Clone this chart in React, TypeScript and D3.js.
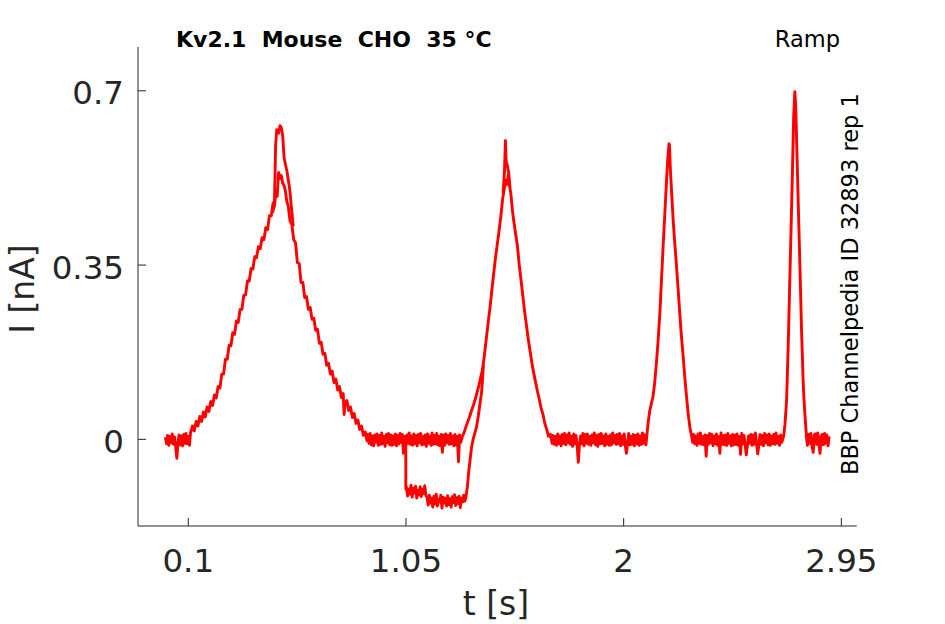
import React from "react";
import * as d3 from "d3";

type P = [number, number];

// axis ticks
const xTicks: number[] = [0.1, 1.05, 2, 2.95];
const xTickLabels: string[] = ["0.1", "1.05", "2", "2.95"];
const yTicks: number[] = [0, 0.35, 0.7];
const yTickLabels: string[] = ["0", "0.35", "0.7"];
const xDomain: [number, number] = [-0.1195, 3.017];
const yDomain: [number, number] = [-0.174, 0.788];

// recording sample interval of the baseline segments [s]
const SAMPLE_DT = 0.005;

// Baseline (holding) segments of sweep 1, in pA
const base0Start = 0.0;
const base0: number[] = [4, -9, 8, -12, 6, -7, 11, -10, 5, -14, -38, -6, 9, -11, 7, -13, 10, -8, 12, -9, 6, -12, 14];

const base1Start = 0.884;
const base1: number[] = [
  10, -8, 12, -11, 7, -13, 9, -6, 11, -12,
  8, -10, 13, -9, 6, -14, 10, -7, 12, -11,
  9, -12, 7, -10, 11, -13, 8, -9, 12, -6,
  10, -28, 6, -14, 9, -8, 13, -10, 7, -12,
  11, -9, 8, -13, 10, -7, 12, -11, 6, -10,
  9, -14, 11, -8, 7, -12, 13, -10, 8, -9,
  12, -11, 6, -13, 10, -26, 9, -12, 11, -7,
  8, -10, 12, -9, 7, -13, 10, -11, 6, -45,
  9, -6,
];

const base2Start = 1.692;
const base2: number[] = [
  8, -10, 6, -12, 11, -9, 7, -13, 10, -8,
  12, -11, 9, -7, 13, -10, 6, -14, 11, -9,
  8, -12, -46, -11, 7, -9, 12, -13, 10, -8,
  11, -10, 6, -12, 9, -7, 13, -11, 8, -14,
  10, -9, 12, -8, 7, -13, 11, -10, 6, -12,
  9, -11, 13, -7, 8, -10, 10, -9, 12, -13,
  7, -10, 11, -12, -28, -8, 12, -11, 6, -10,
  10, -13, 8, -9, 11, -12, 7, -10, 13, -8,
  9, -11,
];

const base3Start = 2.305;
const base3: number[] = [
  10, -9, 7, -12, 11, -8, 13, -10, 6, -11,
  9, -34, 8, -10, 12, -7, 10, -13, 7, -9,
  11, -12, 6, -28, 13, -10, 8, -11, 9, -12,
  12, -8, 7, -13, 10, -11, 9, -10, 11, -12,
  6, -30, 12, -9, 8, -10, -31, -13, 7, -8,
  10, -12, 9, -10, 13, -9, -29, -11, 10, -10,
  8, -13, 12, -7, 9, -11, 11, -12, 7, -9,
  10, -10, 13, -8, 6, -12, 9, -6,
];

const base4Start = 2.802;
const base4: number[] = [-12, 10, -8, 12, -14, -26, 9, 11, -10, 13, -9, -28, 7, 10, -11, 12, -8, 9, -13, 6];

// Sweep 1 transients: time [s], current [nA]
const ramp1: P[] = [
  [0.118, 0.027], [0.126, 0.017], [0.134, 0.036], [0.142, 0.027], [0.150, 0.046], [0.158, 0.036],
  [0.166, 0.055], [0.174, 0.045], [0.182, 0.065], [0.190, 0.056], [0.198, 0.076], [0.206, 0.068],
  [0.214, 0.089], [0.222, 0.083], [0.230, 0.106], [0.238, 0.103], [0.246, 0.131], [0.254, 0.131],
  [0.262, 0.161], [0.270, 0.161], [0.278, 0.189], [0.286, 0.188], [0.294, 0.214], [0.302, 0.211],
  [0.310, 0.238], [0.318, 0.235], [0.326, 0.261], [0.334, 0.261], [0.342, 0.289], [0.350, 0.290],
  [0.358, 0.318], [0.366, 0.318], [0.374, 0.343], [0.382, 0.342], [0.390, 0.367], [0.398, 0.365],
  [0.406, 0.387], [0.414, 0.383], [0.422, 0.405], [0.430, 0.401], [0.438, 0.425], [0.446, 0.421],
  [0.454, 0.449], [0.462, 0.449], [0.470, 0.475], [0.476, 0.468], [0.482, 0.496], [0.488, 0.488],
  [0.494, 0.536], [0.500, 0.524], [0.506, 0.530], [0.512, 0.514], [0.518, 0.510], [0.524, 0.498],
  [0.530, 0.478], [0.536, 0.469], [0.544, 0.439], [0.552, 0.431], [0.560, 0.401], [0.568, 0.395],
  [0.576, 0.355], [0.584, 0.353], [0.592, 0.315], [0.600, 0.315], [0.608, 0.285], [0.616, 0.287],
  [0.624, 0.261], [0.632, 0.265], [0.640, 0.241], [0.648, 0.243], [0.656, 0.219], [0.664, 0.221],
  [0.672, 0.193], [0.680, 0.195], [0.688, 0.171], [0.696, 0.173], [0.704, 0.149], [0.712, 0.153],
  [0.720, 0.131], [0.728, 0.137], [0.736, 0.114], [0.744, 0.121], [0.752, 0.099], [0.760, 0.106],
  [0.768, 0.084], [0.776, 0.092], [0.780, 0.050], [0.784, 0.072], [0.792, 0.078], [0.800, 0.058],
  [0.808, 0.065], [0.816, 0.044], [0.824, 0.052], [0.832, 0.032], [0.840, 0.039], [0.848, 0.020],
  [0.856, 0.027], [0.864, 0.008], [0.872, 0.015], [0.880, -0.003],
];
const ramp2: P[] = [
  [1.296, 0.006], [1.304, 0.014], [1.312, 0.026], [1.320, 0.036], [1.328, 0.046], [1.336, 0.058],
  [1.344, 0.068], [1.352, 0.080], [1.360, 0.094], [1.368, 0.108], [1.376, 0.124], [1.384, 0.140],
  [1.392, 0.168], [1.400, 0.200], [1.408, 0.232], [1.416, 0.262], [1.424, 0.296], [1.432, 0.330],
  [1.440, 0.362], [1.448, 0.390], [1.456, 0.418], [1.464, 0.448], [1.472, 0.484], [1.478, 0.500],
  [1.484, 0.520], [1.490, 0.512], [1.496, 0.530], [1.502, 0.510], [1.508, 0.492], [1.514, 0.462],
  [1.520, 0.440], [1.528, 0.414], [1.536, 0.390], [1.544, 0.352], [1.552, 0.320], [1.560, 0.288],
  [1.568, 0.256], [1.576, 0.228], [1.584, 0.200], [1.592, 0.176], [1.600, 0.152], [1.608, 0.132],
  [1.616, 0.114], [1.624, 0.096], [1.632, 0.080], [1.640, 0.062], [1.648, 0.050], [1.656, 0.032],
  [1.664, 0.020], [1.672, 0.006], [1.680, 0.010], [1.688, -0.008],
];
const ramp3: P[] = [
  [2.100, 0.002], [2.107, 0.034], [2.114, 0.058], [2.121, 0.072], [2.128, 0.086], [2.135, 0.112],
  [2.142, 0.148], [2.150, 0.196], [2.158, 0.254], [2.165, 0.320], [2.172, 0.386], [2.180, 0.456],
  [2.187, 0.520], [2.193, 0.566], [2.198, 0.594], [2.200, 0.590], [2.204, 0.540], [2.210, 0.490],
  [2.216, 0.440], [2.223, 0.394], [2.231, 0.346], [2.238, 0.300], [2.245, 0.252], [2.252, 0.208],
  [2.260, 0.164], [2.267, 0.124], [2.274, 0.088], [2.281, 0.054], [2.289, 0.024], [2.296, 0.008],
  [2.301, -0.006],
];
const ramp4: P[] = [
  [2.698, 0.006], [2.704, 0.030], [2.711, 0.078], [2.718, 0.186], [2.725, 0.320], [2.731, 0.430],
  [2.736, 0.526], [2.742, 0.650], [2.747, 0.698], [2.751, 0.668], [2.756, 0.580], [2.761, 0.490],
  [2.765, 0.420], [2.769, 0.352], [2.773, 0.280], [2.776, 0.222], [2.780, 0.166], [2.783, 0.120],
  [2.787, 0.080], [2.791, 0.050], [2.795, 0.024], [2.798, 0.004],
];

// Sweep 2: portions where it departs from sweep 1
const sweepBPeak1: P[] = [
  [0.468, 0.455], [0.476, 0.472], [0.481, 0.590], [0.486, 0.622], [0.494, 0.615], [0.500, 0.630],
  [0.506, 0.626], [0.512, 0.610], [0.518, 0.566], [0.524, 0.552], [0.530, 0.540], [0.536, 0.522],
  [0.542, 0.505], [0.550, 0.466], [0.558, 0.428],
];
const stepHead: P[] = [[1.040, 0.006], [1.046, -0.006], [1.049, -0.004], [1.0495, -0.100]];
const stepLevel1Start = 1.052;
const stepLevel1: number[] = [-96, -114, -100, -110, -92, -116, -98, -108, -94, -118, -102, -112, -95, -115, -100, -109, -93, -113];
const stepLevel2Start = 1.142;
const stepLevel2: number[] = [
  -116, -132, -112, -128, -118, -136, -114, -130, -110, -134, -120, -126, -112, -138, -116, -128, -118,
  -134, -113, -131, -119, -136, -115, -127, -111, -133, -117, -129, -114, -137, -118, -126, -112, -124,
];
const stepTail: P[] = [
  [1.312, -0.115], [1.318, -0.095], [1.324, -0.064], [1.330, -0.040], [1.336, -0.016], [1.343, 0.000],
  [1.350, 0.012], [1.358, 0.025], [1.366, 0.048], [1.373, 0.072], [1.380, 0.094], [1.388, 0.150],
];
const sweepBPeak2: P[] = [
  [1.474, 0.494], [1.480, 0.540], [1.484, 0.600], [1.487, 0.560], [1.492, 0.550], [1.498, 0.536],
  [1.504, 0.506],
];

const title = "Kv2.1  Mouse  CHO  35 °C";
const protocol = "Ramp";
const sideNote = "BBP Channelpedia ID 32893 rep 1";
const xLabel = "t [s]";
const yLabel = "I [nA]";

function sampled(t0: number, valuesPA: number[]): P[] {
  return valuesPA.map((v, i) => [t0 + i * SAMPLE_DT, v / 1000] as P);
}

const sweepA: P[] = [
  ...sampled(base0Start, base0),
  ...ramp1,
  ...sampled(base1Start, base1),
  ...ramp2,
  ...sampled(base2Start, base2),
  ...ramp3,
  ...sampled(base3Start, base3),
  ...ramp4,
  ...sampled(base4Start, base4),
];
const sweepBStep: P[] = [
  ...stepHead,
  ...sampled(stepLevel1Start, stepLevel1),
  ...sampled(stepLevel2Start, stepLevel2),
  ...stepTail,
];

const W = 945;
const H = 624;
const M = { left: 138, right: 856.7, top: 47, bottom: 526 };
const FONT = "'DejaVu Sans', sans-serif";
const AX = "#262626";

export default function App() {
  const x = d3.scaleLinear().domain(xDomain).range([M.left, M.right]);
  const y = d3.scaleLinear().domain(yDomain).range([M.bottom, M.top]);
  const line = d3
    .line<P>()
    .x((d) => x(d[0]))
    .y((d) => y(d[1]));
  const traces = [sweepA, sweepBPeak1, sweepBStep, sweepBPeak2];
  const tick = 8;
  return (
    <svg
      width={W}
      height={H}
      style={{ position: "absolute", left: 0, top: 0, background: "#fff" }}
      fontFamily={FONT}
    >
      <defs>
        <clipPath id="plotClip">
          <rect x={M.left} y={M.top} width={M.right - M.left} height={M.bottom - M.top} />
        </clipPath>
      </defs>
      <g clipPath="url(#plotClip)">
        {traces.map((t, i) => (
          <path
            key={i}
            d={line(t) || ""}
            fill="none"
            stroke="#ff0000"
            strokeWidth={2.9}
            strokeLinejoin="round"
          />
        ))}
      </g>
      <line x1={M.left} x2={M.left} y1={M.top} y2={M.bottom} stroke={AX} strokeWidth={1} />
      <line x1={M.left} x2={M.right} y1={M.bottom} y2={M.bottom} stroke={AX} strokeWidth={1} />
      {xTicks.map((v, i) => (
        <g key={"xt" + i}>
          <line x1={x(v)} x2={x(v)} y1={M.bottom} y2={M.bottom - tick} stroke={AX} strokeWidth={1} />
          <text x={x(v)} y={572} textAnchor="middle" fontSize={32.5} fill={AX}>
            {xTickLabels[i]}
          </text>
        </g>
      ))}
      {yTicks.map((v, i) => (
        <g key={"yt" + i}>
          <line x1={M.left} x2={M.left + tick} y1={y(v)} y2={y(v)} stroke={AX} strokeWidth={1} />
          <text x={124} y={y(v) + 13.6} textAnchor="end" fontSize={32.5} fill={AX}>
            {yTickLabels[i]}
          </text>
        </g>
      ))}
      <text x={496} y={615} textAnchor="middle" fontSize={33} fill={AX}>
        {xLabel}
      </text>
      <text transform="translate(33.5,289) rotate(-90)" textAnchor="middle" fontSize={33} fill={AX}>
        {yLabel}
      </text>
      <text x={176} y={47} fontSize={22} fontWeight="bold" fill="#000" style={{ whiteSpace: "pre" }}>
        {title}
      </text>
      <text x={840} y={47} textAnchor="end" fontSize={22.5} fill="#000">
        {protocol}
      </text>
      <text transform="translate(858,475) rotate(-90)" fontSize={22.5} fill="#000">
        {sideNote}
      </text>
    </svg>
  );
}
